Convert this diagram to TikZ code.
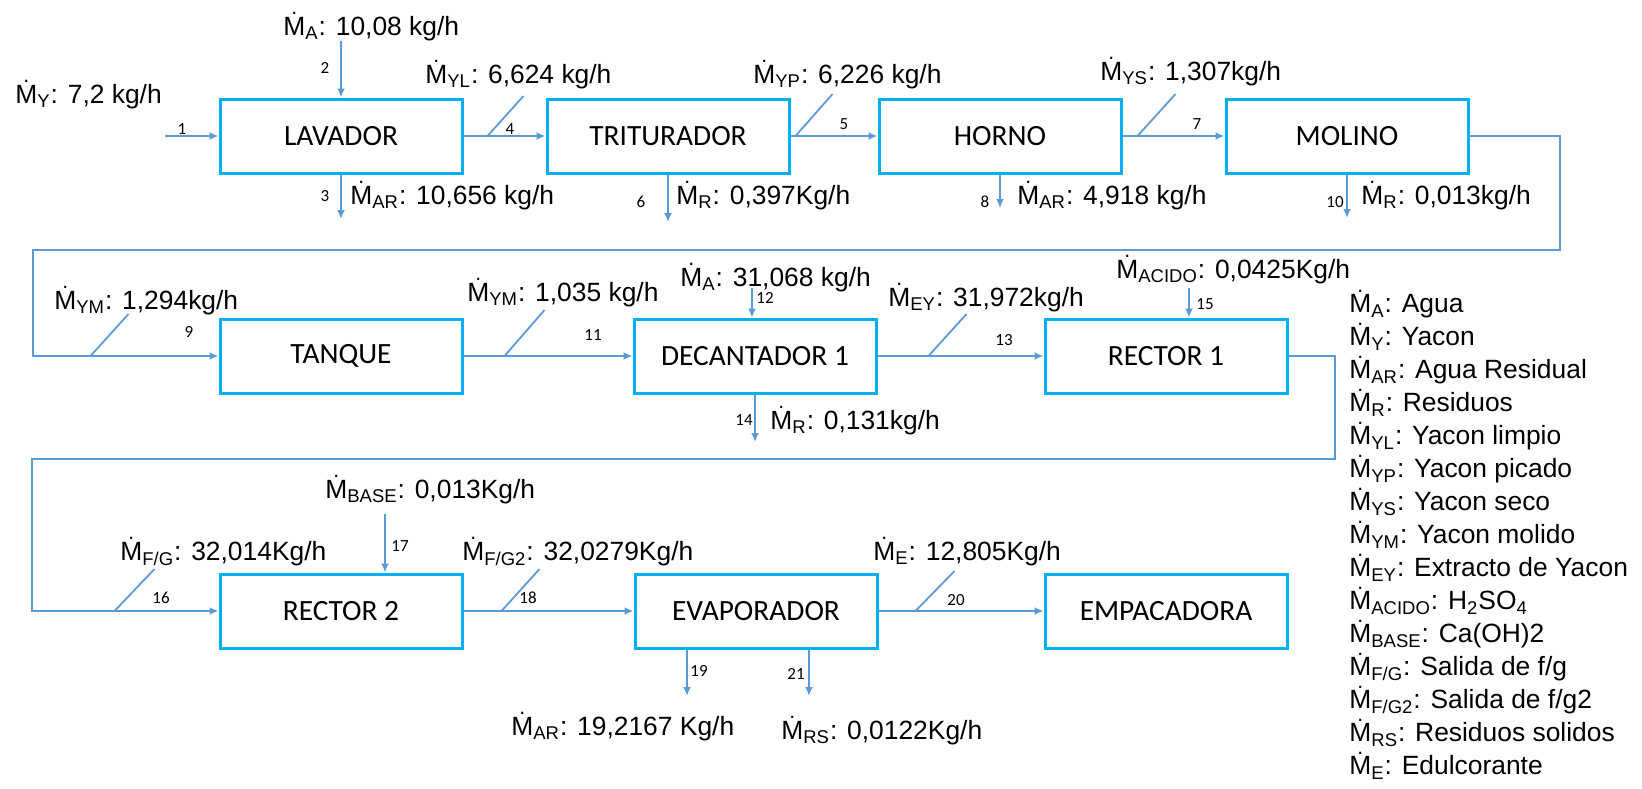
\documentclass[tikz,border=0pt]{standalone}
\usepackage{fontspec}
\setmainfont{Liberation Sans}
\newfontfamily\calibri{Carlito}
\usetikzlibrary{arrows.meta, calc}
\definecolor{boxblue}{RGB}{0,176,240}
\definecolor{lineblue}{RGB}{91,155,213}

% mass flow symbol: M with a dot, subscript and colon
\newcommand{\Mdot}[1]{\leavevmode\rlap{\hbox to 0.833em{\hss\raisebox{0.76em}{\scalebox{0.8}{.}}\hss}}M\textsubscript{#1}:}

\begin{document}
\begin{tikzpicture}[x=0.5pt, y=-0.5pt,
  unit/.style={rectangle, draw=boxblue, line width=1.5pt,
               minimum width=121pt, minimum height=37pt, inner sep=0pt,
               font=\calibri\fontsize{14.7}{17}\selectfont},
  arrow/.style={draw=lineblue, line width=0.9pt, -{Latex[length=4.5pt, width=4pt]}},
  tick/.style={draw=lineblue, line width=0.9pt},
  num/.style={inner sep=0pt, font=\calibri\fontsize{8.5}{10}\selectfont},
  rate/.style={anchor=base west, inner sep=0pt, font=\fontsize{13.2}{15}\selectfont}
]
  \useasboundingbox (0,0) rectangle (1642,788);

  % process units
  \node[unit] (lav) at (341,136)  {LAVADOR};
  \node[unit] (tri) at (668,136)  {TRITURADOR};
  \node[unit] (hor) at (1000,136) {HORNO};
  \node[unit] (mol) at (1347,136) {MOLINO};

  \node[unit] (tan) at (341,356)  {TANQUE};
  \node[unit] (dec) at (755,356)  {DECANTADOR 1};
  \node[unit] (re1) at (1166,356) {RECTOR 1};

  \node[unit] (re2) at (341,611)  {RECTOR 2};
  \node[unit] (eva) at (756,611)  {EVAPORADOR};
  \node[unit] (emp) at (1166,611) {EMPACADORA};

  % free ends of feed and discharge streams
  \coordinate (in1)   at (165,136);
  \coordinate (in2)   at (341,41);
  \coordinate (out3)  at (341,219);
  \coordinate (out6)  at (668,222);
  \coordinate (out8)  at (1000,208);
  \coordinate (out10) at (1347,218);
  \coordinate (in12)  at (752,288);
  \coordinate (out14) at (755,442);
  \coordinate (in15)  at (1189,288);
  \coordinate (in17)  at (385,514);
  \coordinate (out19) at (687,696);
  \coordinate (out21) at (809,696);

  % first line
  \draw[arrow] (in1) -- (lav);
  \draw[arrow] (in2) -- (lav);
  \draw[arrow] (lav) -- (out3);
  \draw[arrow] (lav) -- (tri);
  \draw[tick] ($(lav.east)+(24,0)$) -- ++(36,-40);
  \draw[arrow] (tri) -- (out6);
  \draw[arrow] (tri) -- (hor);
  \draw[tick] ($(tri.east)+(5,0)$) -- ++(37,-42);
  \draw[arrow] (hor) -- (out8);
  \draw[arrow] (hor) -- (mol);
  \draw[tick] ($(hor.east)+(15,0)$) -- ++(38,-42);
  \draw[arrow] (mol) -- (out10);

  % molino back to tanque
  \draw[arrow] (mol.east) -| (1560,250) -- (33,250) |- (tan.west);
  \draw[tick] ($(tan.west)+(-128,0)$) -- ++(38,-42);

  % second line
  \draw[arrow] (tan) -- (dec);
  \draw[tick] ($(tan.east)+(41,0)$) -- ++(40,-46);
  \draw[arrow] (in12) -- (in12 |- dec.north);
  \draw[arrow] (dec) -- (out14);
  \draw[arrow] (dec) -- (re1);
  \draw[tick] ($(dec.east)+(51,0)$) -- ++(38,-42);
  \draw[arrow] (in15) -- (in15 |- re1.north);

  % rector 1 back to rector 2
  \draw[arrow] (re1.east) -| (1335,459) -- (32,459) |- (re2.west);
  \draw[tick] ($(re2.west)+(-104,0)$) -- ++(40,-42);

  % third line
  \draw[arrow] (in17) -- (in17 |- re2.north);
  \draw[arrow] (re2) -- (eva);
  \draw[tick] ($(re2.east)+(38,0)$) -- ++(38,-42);
  \draw[arrow] (eva.south -| out19) -- (out19);
  \draw[arrow] (eva.south -| out21) -- (out21);
  \draw[arrow] (eva) -- (emp);
  \draw[tick] ($(eva.east)+(37,0)$) -- ++(39,-40);

  % stream numbers
  \node[num] (n1)  at (182,129)  {1};
  \node[num] (n2)  at (325,68)   {2};
  \node[num] (n3)  at (325,196)  {3};
  \node[num] (n4)  at (510,129)  {4};
  \node[num] (n5)  at (844,124)  {5};
  \node[num] (n6)  at (641,202)  {6};
  \node[num] (n7)  at (1197,124) {7};
  \node[num] (n8)  at (985,202)  {8};
  \node[num] (n10) at (1335,202) {10};
  \node[num] (n9)  at (189,332)  {9};
  \node[num] (n11) at (593,335)  {11};
  \node[num] (n12) at (765,298)  {12};
  \node[num] (n13) at (1004,340) {13};
  \node[num] (n14) at (744,420)  {14};
  \node[num] (n15) at (1205,304) {15};
  \node[num] (n16) at (161,598)  {16};
  \node[num] (n17) at (400,546)  {17};
  \node[num] (n18) at (528,598)  {18};
  \node[num] (n19) at (699,671)  {19};
  \node[num] (n20) at (956,600)  {20};
  \node[num] (n21) at (796,674)  {21};

  % flow rates
  \node[rate] (mY)   at (15,103)   {\Mdot{Y} 7,2 kg/h};
  \node[rate] (mA1)  at (283,35)   {\Mdot{A} 10,08 kg/h};
  \node[rate] (mYL)  at (425,83)   {\Mdot{YL} 6,624 kg/h};
  \node[rate] (mAR1) at (350,204)  {\Mdot{AR} 10,656 kg/h};
  \node[rate] (mYP)  at (753,83)   {\Mdot{YP} 6,226 kg/h};
  \node[rate] (mR1)  at (676,204)  {\Mdot{R} 0,397Kg/h};
  \node[rate] (mYS)  at (1100,80)  {\Mdot{YS} 1,307kg/h};
  \node[rate] (mAR2) at (1017,204) {\Mdot{AR} 4,918 kg/h};
  \node[rate] (mR2)  at (1361,204) {\Mdot{R} 0,013kg/h};
  \node[rate] (mYM1) at (54,309)   {\Mdot{YM} 1,294kg/h};
  \node[rate] (mYM2) at (467,301)  {\Mdot{YM} 1,035 kg/h};
  \node[rate] (mA2)  at (680,286)  {\Mdot{A} 31,068 kg/h};
  \node[rate] (mEY)  at (888,306)  {\Mdot{EY} 31,972kg/h};
  \node[rate] (mAC)  at (1116,278) {\Mdot{ACIDO} 0,0425Kg/h};
  \node[rate] (mR3)  at (770,429)  {\Mdot{R} 0,131kg/h};
  \node[rate] (mBA)  at (325,498)  {\Mdot{BASE} 0,013Kg/h};
  \node[rate] (mFG)  at (120,560)  {\Mdot{F/G} 32,014Kg/h};
  \node[rate] (mFG2) at (462,560)  {\Mdot{F/G2} 32,0279Kg/h};
  \node[rate] (mE)   at (873,560)  {\Mdot{E} 12,805Kg/h};
  \node[rate] (mAR3) at (511,735)  {\Mdot{AR} 19,2167 Kg/h};
  \node[rate] (mRS)  at (781,739)  {\Mdot{RS} 0,0122Kg/h};

  % symbols
  \node[anchor=north west, inner sep=0pt, align=left,
        font=\fontsize{13.2}{16.5}\selectfont] (key) at (1349,290)
    {\Mdot{A} Agua\\
     \Mdot{Y} Yacon\\
     \Mdot{AR} Agua Residual\\
     \Mdot{R} Residuos\\
     \Mdot{YL} Yacon limpio\\
     \Mdot{YP} Yacon picado\\
     \Mdot{YS} Yacon seco\\
     \Mdot{YM} Yacon molido\\
     \Mdot{EY} Extracto de Yacon\\
     \Mdot{ACIDO} H\textsubscript{2}SO\textsubscript{4}\\
     \Mdot{BASE} Ca(OH)2\\
     \Mdot{F/G} Salida de f/g\\
     \Mdot{F/G2} Salida de f/g2\\
     \Mdot{RS} Residuos solidos\\
     \Mdot{E} Edulcorante};
\end{tikzpicture}
\end{document}
